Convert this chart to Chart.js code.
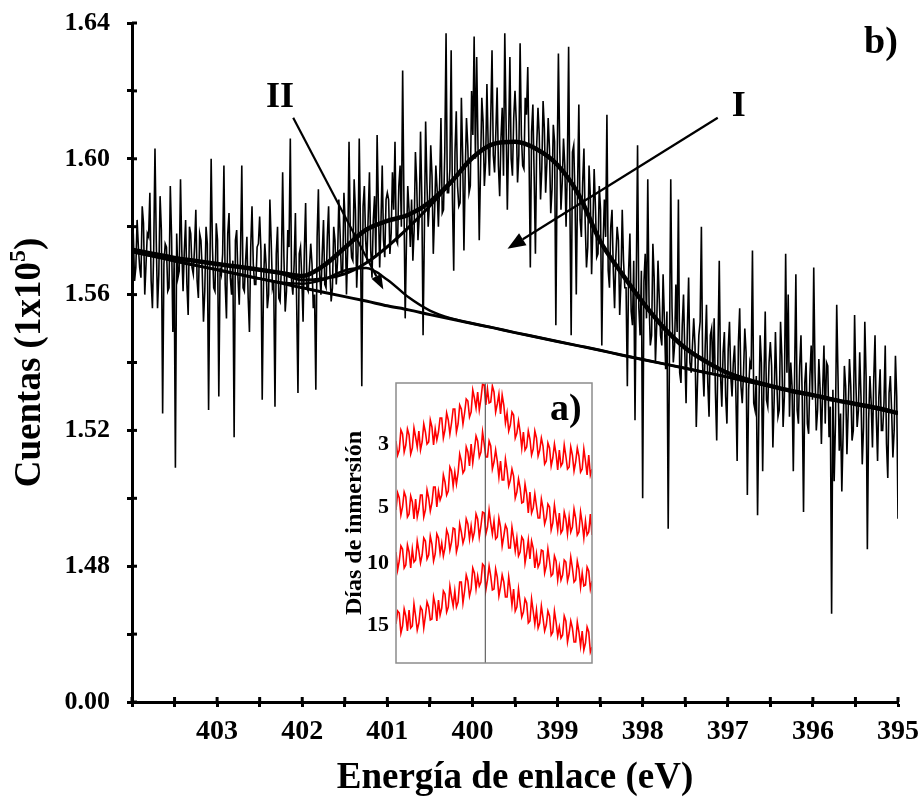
<!DOCTYPE html>
<html><head><meta charset="utf-8">
<script src="https://cdn.jsdelivr.net/npm/chart.js@4.4.1/dist/chart.umd.min.js"></script>
<style>
html,body{margin:0;padding:0;background:#fff;}
#wrap{position:relative;width:924px;height:797px;overflow:hidden;}
#main{position:absolute;left:0;top:0;}
#inset{position:absolute;left:336px;top:375px;}
</style>
</head><body>
<div id="wrap"><canvas id="main" width="924" height="797"></canvas><canvas id="inset" width="258" height="292"></canvas></div>
<script>
// ---------- DATA (main spectrum, N 1s) ----------
const RAW_E_START = 404;      // eV, first channel
const RAW_E_STEP = 0.015;     // eV per channel (decreasing)
// even channels (0, 2, 4, ...)
const rawEven = [
1.575,1.564,1.582,1.568,1.586,1.560,1.578,1.590,1.556,1.603,
1.556,1.589,1.525,1.575,1.561,1.592,1.549,1.509,1.565,1.594,
1.561,1.582,1.554,1.578,1.566,1.585,1.559,1.576,1.552,1.580,
1.526,1.600,1.562,1.581,1.530,1.566,1.598,1.553,1.584,1.560,
1.518,1.579,1.557,1.598,1.561,1.577,1.549,1.586,1.563,1.574,
1.583,1.529,1.575,1.556,1.588,1.562,1.527,1.580,1.558,1.596,
1.555,1.579,1.606,1.560,1.584,1.531,1.574,1.552,1.587,1.561,
1.575,1.556,1.532,1.591,1.560,1.582,1.562,1.586,1.558,1.580,
1.563,1.588,1.566,1.590,1.560,1.605,1.571,1.594,1.562,1.606,
1.533,1.592,1.570,1.596,1.565,1.589,1.607,1.568,1.598,1.571,
1.590,1.572,1.596,1.605,1.575,1.598,1.626,1.553,1.592,1.574,
1.570,1.602,1.576,1.608,1.548,1.611,1.580,1.604,1.572,1.598,
1.580,1.612,1.585,1.637,1.590,1.632,1.567,1.614,1.586,1.618,
1.573,1.612,1.590,1.620,1.636,1.630,1.576,1.618,1.592,1.622,
1.595,1.632,1.596,1.621,1.589,1.615,1.637,1.585,1.630,1.595,
1.620,1.593,1.634,1.598,1.618,1.627,1.568,1.616,1.572,1.615,
1.588,1.617,1.590,1.612,1.584,1.610,1.551,1.631,1.585,1.606,
1.580,1.633,1.548,1.604,1.560,1.616,1.577,1.603,1.568,1.598,
1.566,1.597,1.571,1.592,1.545,1.588,1.613,1.562,1.585,1.556,
1.580,1.554,1.585,1.562,1.533,1.578,1.551,1.523,1.604,1.548,
1.500,1.572,1.594,1.545,1.575,1.540,1.570,1.548,1.566,1.538,
1.491,1.594,1.540,1.563,1.588,1.534,1.560,1.528,1.565,1.537,
1.553,1.521,1.548,1.580,1.530,1.557,1.524,1.550,1.553,1.517,
1.570,1.527,1.549,1.522,1.552,1.530,1.545,1.511,1.556,1.528,
1.550,1.501,1.540,1.573,1.526,1.495,1.548,1.508,1.555,1.527,
1.546,1.515,1.549,1.524,1.552,1.521,1.572,1.560,1.540,1.508,
1.566,1.522,1.548,1.496,1.540,1.519,1.545,1.568,1.520,1.541,
1.516,1.545,1.540,1.518,1.466,1.505,1.557,1.514,1.502,1.539,
1.513,1.541,1.517,1.554,1.521,1.543,1.510,1.552,1.485,1.536,
1.515,1.548,1.511,1.538,1.520,1.545,1.506,1.536,1.512,1.542,
1.494
];
// odd channels (1, 3, 5, ...)
const rawOdd = [
1.578,1.568,1.574,1.565,1.581,1.569,1.577,1.564,1.573,1.576,
1.566,1.579,1.569,1.574,1.562,1.577,1.570,1.578,1.567,1.573,
1.573,1.563,1.580,1.568,1.574,1.564,1.578,1.567,1.561,1.575,
1.567,1.574,1.561,1.576,1.568,1.572,1.563,1.578,1.565,1.570,
1.576,1.565,1.572,1.562,1.570,1.559,1.574,1.569,1.563,1.575,
1.573,1.563,1.569,1.560,1.576,1.564,1.572,1.559,1.568,1.571,
1.561,1.574,1.564,1.569,1.557,1.572,1.565,1.573,1.562,1.568,
1.569,1.560,1.577,1.566,1.572,1.563,1.577,1.567,1.562,1.576,
1.570,1.578,1.566,1.581,1.574,1.578,1.570,1.585,1.573,1.578,
1.586,1.576,1.583,1.573,1.582,1.571,1.586,1.581,1.576,1.588,
1.588,1.578,1.585,1.576,1.592,1.580,1.588,1.576,1.585,1.588,
1.579,1.593,1.583,1.589,1.578,1.593,1.587,1.595,1.584,1.591,
1.593,1.584,1.602,1.590,1.597,1.588,1.602,1.592,1.587,1.601,
1.596,1.604,1.592,1.607,1.600,1.604,1.597,1.611,1.599,1.604,
1.612,1.601,1.608,1.598,1.606,1.595,1.611,1.606,1.600,1.612,
1.611,1.601,1.607,1.597,1.613,1.601,1.608,1.595,1.604,1.607,
1.597,1.609,1.599,1.603,1.591,1.605,1.597,1.604,1.593,1.598,
1.597,1.586,1.602,1.589,1.591,1.582,1.593,1.581,1.574,1.589,
1.580,1.586,1.572,1.585,1.575,1.577,1.567,1.580,1.567,1.571,
1.576,1.564,1.570,1.562,1.567,1.555,1.570,1.564,1.556,1.567,
1.564,1.553,1.558,1.548,1.565,1.551,1.559,1.545,1.553,1.555,
1.544,1.556,1.545,1.549,1.537,1.551,1.543,1.550,1.540,1.545,
1.545,1.535,1.552,1.539,1.545,1.534,1.548,1.537,1.531,1.544,
1.536,1.543,1.530,1.544,1.536,1.540,1.531,1.546,1.533,1.537,
1.543,1.532,1.538,1.528,1.536,1.525,1.540,1.535,1.529,1.540,
1.539,1.529,1.535,1.526,1.542,1.530,1.537,1.524,1.533,1.536,
1.526,1.539,1.529,1.534,1.522,1.536,1.529,1.537,1.526,1.532,
1.532,1.522,1.539,1.527,1.532,1.522,1.536,1.525,1.519,1.533,
1.526,1.533,1.520,1.534,1.526,1.530,1.521,1.536,1.523,1.528,
1.535,1.524,1.530,1.520,1.528,1.516,1.531,1.526,1.520,1.530
];

// fitted curves, sampled every 0.25 eV from 404 eV down to 395 eV
const FIT_E_START = 404;
const FIT_E_STEP = 0.25;
const fitTotal = [1.5732,1.5720,1.5708,1.5699,1.5690,1.5682,1.5673,1.5664,1.5655,1.5685,1.5738,1.5791,1.5817,1.5835,1.5873,1.5932,1.6003,1.6044,1.6050,1.6029,1.5982,1.5894,1.5758,1.5664,1.5578,1.5502,1.5443,1.5402,1.5369,1.5348,1.5331,1.5316,1.5304,1.5290,1.5278,1.5266,1.5251];
const fitPeakI = [1.5732,1.5720,1.5708,1.5699,1.5690,1.5682,1.5673,1.5662,1.5643,1.5647,1.5661,1.5693,1.5741,1.5798,1.5861,1.5930,1.6003,1.6044,1.6050,1.6029,1.5982,1.5894,1.5758,1.5664,1.5578,1.5502,1.5443,1.5402,1.5369,1.5348,1.5331,1.5316,1.5304,1.5290,1.5278,1.5266,1.5251];
const fitPeakII = [1.5726,1.5713,1.5699,1.5686,1.5673,1.5660,1.5647,1.5636,1.5632,1.5644,1.5671,1.5678,1.5644,1.5592,1.5553,1.5530,1.5515,1.5502,1.5488,1.5475,1.5462,1.5449,1.5436,1.5422,1.5409,1.5396,1.5383,1.5370,1.5357,1.5343,1.5330,1.5317,1.5304,1.5291,1.5277,1.5264,1.5251];
const fitBaseline = [1.5726,1.5713,1.5699,1.5686,1.5673,1.5660,1.5647,1.5634,1.5620,1.5607,1.5594,1.5581,1.5567,1.5555,1.5541,1.5528,1.5515,1.5502,1.5488,1.5475,1.5462,1.5449,1.5436,1.5422,1.5409,1.5396,1.5383,1.5370,1.5357,1.5343,1.5330,1.5317,1.5304,1.5291,1.5277,1.5264,1.5251];

// axis ranges / tick labels
const X_MIN = 395, X_MAX = 404, X_STEP = 0.5;
const Y_MIN = 1.44, Y_MAX = 1.64, Y_STEP = 0.02;
const Y_BREAK_LABEL = '0.00';   // the bottom tick of the broken axis

// annotations (data coordinates)
const noteText = ['II', 'I', 'b)'];
const noteE = [402.26, 396.87, 395.20];
const noteV = [1.6179, 1.6153, 1.6341];
const arrowFromE = [402.106, 397.118];
const arrowFromV = [1.6121, 1.6121];
const arrowToE = [401.047, 399.588];
const arrowToV = [1.5615, 1.5735];

// ---------- DATA (inset a) ----------
const INSET_E_START = 404, INSET_E_STEP = 0.075;
const insetDays = ['3', '5', '10', '15'];
const insetLevels = [219, 156, 100, 38];   // vertical offset of each trace (a.u.)
const insetRef = 399.9;                      // reference line (eV)
const inset3a = [222,213,229,218,228,215,226,232,221,231,221,236,234,231,245,233,243,240,254,239,254,250,262,251,265,271,264,278,274,261,271,259,249,258,250,238,248,230,231,231,216,224,214,225,213,217,202,215,205,209,213,200,207,196,208,201,207,194,202,208,194];
const inset3b = [208,233,211,234,209,235,216,213,239,219,243,218,223,245,225,250,229,254,231,258,239,264,246,273,255,253,279,258,260,277,251,269,268,240,232,251,225,242,215,213,232,208,232,207,225,199,220,197,219,193,197,218,194,216,192,215,191,214,188,188];
const inset5a = [153,165,156,166,149,161,164,154,168,153,165,160,176,172,168,181,172,192,191,190,202,193,211,219,213,222,211,219,206,217,201,202,202,183,193,183,187,171,175,161,169,171,155,157,145,155,145,156,140,146,150,133,144,146,136,145,131,140,142,131,128];
const inset5b = [170,148,171,146,167,144,146,168,146,173,152,176,156,163,188,168,196,177,179,209,190,216,197,200,227,206,231,206,222,194,213,186,183,204,177,194,165,184,160,179,150,150,169,145,164,139,159,133,158,133,130,151,129,131,154,128,151,125,128,149];
const inset10a = [111,102,114,98,111,114,103,112,108,122,108,119,109,125,120,115,128,121,134,118,131,126,139,137,131,144,137,150,136,140,142,126,136,127,134,115,125,125,111,123,110,104,115,109,100,112,97,102,89,102,96,88,101,89,95,83,94,90,78,92,82];
const inset10b = [93,117,95,118,95,101,122,100,125,104,127,102,129,110,107,133,113,135,111,139,120,144,124,124,149,126,151,129,153,129,124,145,117,138,115,136,112,107,126,100,123,122,95,96,113,90,114,87,107,83,83,103,82,106,81,102,76,77,96,74];
const inset15a = [39,50,37,47,53,37,47,40,53,47,56,44,58,63,55,69,56,66,72,61,81,72,82,74,90,87,81,97,83,87,74,86,76,81,66,74,74,56,60,51,60,42,52,53,40,45,38,47,31,41,36,28,42,30,35,21,31,32,20,31,16];
const inset15b = [52,30,54,32,35,59,33,56,35,61,43,66,42,48,72,51,77,57,56,81,60,88,67,95,74,77,99,73,97,73,94,67,88,66,86,58,52,74,46,64,40,64,39,35,57,32,52,28,52,27,25,47,21,42,21,41,17,13,36,11];

// ---------- BUILD ----------
const FONT = "'Liberation Serif','Times New Roman',Times,serif";
Chart.defaults.font.family = FONT;
Chart.defaults.color = '#000';

const interleave = (a, b) => { const out = []; a.forEach((v, i) => { out.push(v); if (i < b.length) out.push(b[i]); }); return out; };
const toPts = (arr, e0, de) => arr.map((v, i) => ({x: e0 - de * i, y: v}));
const rawPts = toPts(interleave(rawEven, rawOdd), RAW_E_START, RAW_E_STEP);

const lineDs = (label, arr, width, order) => ({
  label, data: toPts(arr, FIT_E_START, FIT_E_STEP), borderColor: '#000', borderWidth: width,
  pointRadius: 0, cubicInterpolationMode: 'monotone', fill: false, order
});

const decoPlugin = {
  id: 'deco',
  afterDatasetsDraw(chart) {
    const {ctx, scales: {x, y}} = chart;
    ctx.save();
    ctx.strokeStyle = '#000'; ctx.fillStyle = '#000';
    const heads = [[15, 5.5], [18, 7]];
    for (let k = 0; k < arrowFromE.length; k++) {
      const x1 = x.getPixelForValue(arrowFromE[k]), y1 = y.getPixelForValue(arrowFromV[k]);
      const x2 = x.getPixelForValue(arrowToE[k]), y2 = y.getPixelForValue(arrowToV[k]);
      const a = Math.atan2(y2 - y1, x2 - x1);
      const L = heads[k][0], W = heads[k][1];
      const bx = x2 - L * Math.cos(a), by = y2 - L * Math.sin(a);
      ctx.lineWidth = 2.2;
      ctx.beginPath(); ctx.moveTo(x1, y1); ctx.lineTo(bx, by); ctx.stroke();
      ctx.beginPath(); ctx.moveTo(x2, y2);
      ctx.lineTo(bx + W * Math.sin(a), by - W * Math.cos(a));
      ctx.lineTo(bx - W * Math.sin(a), by + W * Math.cos(a));
      ctx.closePath(); ctx.fill();
    }
    ctx.textAlign = 'center'; ctx.textBaseline = 'middle';
    const sizes = [36, 36, 38];
    for (let k = 0; k < noteText.length; k++) {
      ctx.font = `bold ${sizes[k]}px ${FONT}`;
      ctx.fillText(noteText[k], x.getPixelForValue(noteE[k]), y.getPixelForValue(noteV[k]));
    }
    ctx.restore();
  },
  afterDraw(chart) {
    const {ctx, chartArea: ca, scales: {x, y}} = chart;
    ctx.save();
    ctx.strokeStyle = '#000'; ctx.lineWidth = 3;
    // inner half of the crossing tick marks
    x.ticks.forEach(t => { const px = x.getPixelForValue(t.value); ctx.beginPath(); ctx.moveTo(px, ca.bottom); ctx.lineTo(px, ca.bottom - 5); ctx.stroke(); });
    y.ticks.forEach(t => { const py = y.getPixelForValue(t.value); ctx.beginPath(); ctx.moveTo(ca.left, py); ctx.lineTo(ca.left + 5, py); ctx.stroke(); });
    // y title with superscript
    ctx.translate(30, (ca.top + ca.bottom) / 2);
    ctx.rotate(-Math.PI / 2);
    ctx.fillStyle = '#000'; ctx.textBaseline = 'middle'; ctx.textAlign = 'left';
    const big = `bold 37px ${FONT}`, small = `bold 24px ${FONT}`;
    const t1 = 'Cuentas (1x10', t2 = '5', t3 = ')';
    ctx.font = big; const w1 = ctx.measureText(t1).width, w3 = ctx.measureText(t3).width;
    ctx.font = small; const w2 = ctx.measureText(t2).width;
    let px = -(w1 + w2 + w3) / 2;
    ctx.font = big; ctx.fillText(t1, px, 0); px += w1;
    ctx.font = small; ctx.fillText(t2, px, -11); px += w2;
    ctx.font = big; ctx.fillText(t3, px, 0);
    ctx.restore();
  }
};

new Chart(document.getElementById('main'), {
  type: 'line',
  data: {
    datasets: [
      {label: 'Datos', data: rawPts, borderColor: '#000', borderWidth: 1.6, pointRadius: 0, tension: 0, fill: false, order: 5},
      lineDs('Línea base', fitBaseline, 3, 4),
      lineDs('II', fitPeakII, 2.5, 3),
      lineDs('I', fitPeakI, 3, 2),
      lineDs('Ajuste', fitTotal, 4.5, 1)
    ]
  },
  options: {
    responsive: false, animation: false, devicePixelRatio: 1,
    layout: {padding: {left: 0, right: 26, top: 23, bottom: 0}},
    plugins: {legend: {display: false}, tooltip: {enabled: false}},
    scales: {
      x: {
        type: 'linear', min: X_MIN, max: X_MAX, reverse: true,
        afterFit: s => { s.height = 95; s.paddingLeft = 0; s.paddingRight = 0; },
        ticks: {
          stepSize: X_STEP, autoSkip: false, maxRotation: 0, minRotation: 0, padding: 8,
          font: {size: 28, weight: 'bold'}, color: '#000',
          callback: v => (Math.abs(v - Math.round(v)) < 1e-6 && Math.round(v) !== X_MAX) ? String(Math.round(v)) : ''
        },
        grid: {drawOnChartArea: false, drawTicks: true, tickLength: 5, tickWidth: 3, tickColor: '#000', color: '#000'},
        border: {display: true, width: 3, color: '#000'},
        title: {display: true, text: 'Energía de enlace (eV)', font: {size: 37, weight: 'bold', lineHeight: 1}, padding: {top: 0, bottom: 0}, color: '#000'}
      },
      y: {
        type: 'linear', min: Y_MIN, max: Y_MAX,
        afterFit: s => { s.width = 132; s.paddingTop = 0; s.paddingBottom = 0; },
        ticks: {
          stepSize: Y_STEP, autoSkip: false, padding: 17,
          font: {size: 26, weight: 'bold'}, color: '#000',
          callback: v => {
            const c = Math.round(v * 100);
            if (c % 4 !== 0) return '';
            return c === Math.round(Y_MIN * 100) ? Y_BREAK_LABEL : (c / 100).toFixed(2);
          }
        },
        grid: {drawOnChartArea: false, drawTicks: true, tickLength: 5, tickWidth: 3, tickColor: '#000', color: '#000'},
        border: {display: true, width: 3, color: '#000'},
        title: {display: false}
      }
    }
  },
  plugins: [decoPlugin]
});

// ---------- INSET ----------
const insetPlugin = {
  id: 'insetBox',
  beforeDraw(chart) {
    const {ctx, chartArea: ca} = chart;
    ctx.save(); ctx.fillStyle = '#fff'; ctx.fillRect(ca.left, ca.top, ca.right - ca.left, ca.bottom - ca.top); ctx.restore();
  },
  afterDraw(chart) {
    const {ctx, chartArea: ca, scales: {x, y}} = chart;
    ctx.save();
    ctx.strokeStyle = '#8c8c8c'; ctx.lineWidth = 1.5;
    ctx.strokeRect(ca.left, ca.top, ca.right - ca.left, ca.bottom - ca.top);
    ctx.fillStyle = '#000'; ctx.font = `bold 38px ${FONT}`; ctx.textAlign = 'center'; ctx.textBaseline = 'middle';
    ctx.fillText('a)', x.getPixelForValue(396.2), y.getPixelForValue(253));
    ctx.restore();
  }
};
const redDs = (label, a, b) => ({label, data: toPts(interleave(a, b), INSET_E_START, INSET_E_STEP), borderColor: '#ff0000', borderWidth: 1.6, pointRadius: 0, tension: 0, fill: false});
new Chart(document.getElementById('inset'), {
  type: 'line',
  data: {
    datasets: [
      {label: 'ref', data: [{x: insetRef, y: 0}, {x: insetRef, y: 280}], borderColor: '#444', borderWidth: 1, pointRadius: 0, fill: false},
      redDs('3', inset3a, inset3b), redDs('5', inset5a, inset5b), redDs('10', inset10a, inset10b), redDs('15', inset15a, inset15b)
    ]
  },
  options: {
    responsive: false, animation: false, devicePixelRatio: 1,
    layout: {padding: {left: 0, right: 2, top: 8, bottom: 4}},
    plugins: {legend: {display: false}, tooltip: {enabled: false}},
    scales: {
      x: {type: 'linear', min: X_MIN, max: X_MAX, reverse: true, display: false},
      y: {
        type: 'linear', min: 0, max: 280, position: 'left',
        afterFit: s => { s.width = 60; s.paddingTop = 0; s.paddingBottom = 0; },
        afterBuildTicks: s => { s.ticks = insetLevels.map(v => ({value: v})); },
        ticks: {autoSkip: false, padding: 7, font: {size: 22, weight: 'bold'}, color: '#000', callback: (v, i) => insetDays[i]},
        grid: {display: false, drawTicks: false},
        border: {display: false},
        title: {display: true, text: 'Días de inmersión', font: {size: 24, weight: 'bold', lineHeight: 1}, padding: {top: 7, bottom: 0}, color: '#000'}
      }
    }
  },
  plugins: [insetPlugin]
});
</script>
</body></html>
